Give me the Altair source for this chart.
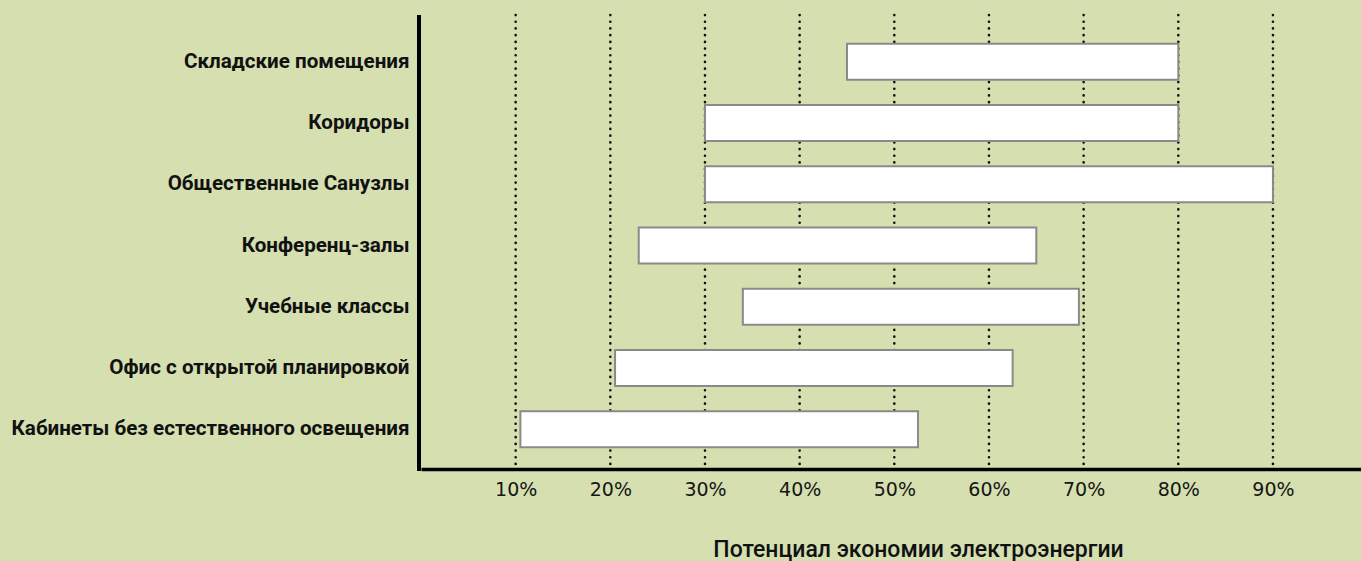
import altair as alt
import pandas as pd

categories = [
    "Складские помещения",
    "Коридоры",
    "Общественные Санузлы",
    "Конференц-залы",
    "Учебные классы",
    "Офис с открытой планировкой",
    "Кабинеты без естественного освещения",
]
starts = [45, 30, 30, 23, 34, 20.5, 10.5]
ends = [80, 80, 90, 65, 69.5, 62.5, 52.5]
tick_values = [10, 20, 30, 40, 50, 60, 70, 80, 90]

bars_df = pd.DataFrame({"cat": categories, "start": starts, "end": ends})
grid_df = pd.DataFrame({"t": tick_values})

W, H = 940, 447
xscale = alt.Scale(domain=[0, 99.3], nice=False, zero=False)

grid = alt.Chart(grid_df).mark_rule(
    color="#111111", strokeWidth=2.6, strokeDash=[0.1, 6.6], strokeCap="round"
).encode(
    x=alt.X("t:Q", scale=xscale,
            axis=alt.Axis(values=tick_values, labelExpr="datum.value + '%'",
                          grid=False, ticks=False, domain=True,
                          domainColor="#000000", domainWidth=3.5,
                          labelFont="DejaVu Sans", labelFontSize=19,
                          labelColor="#151515", labelPadding=11,
                          title="Потенциал экономии электроэнергии",
                          titleFont="Roboto", titleFontSize=23,
                          titleFontWeight=500, titleColor="#111111",
                          titleX=497, titleY=80, titleAlign="center",
                          titleBaseline="middle")),
    y=alt.value(-7),
    y2=alt.value(H),
)

bars = alt.Chart(bars_df).mark_bar(
    fill="#ffffff", stroke="#8a8a8a", strokeWidth=2, cornerRadius=0
).encode(
    x=alt.X("start:Q", scale=xscale),
    x2="end:Q",
    y=alt.Y("cat:N", sort=categories,
            scale=alt.Scale(paddingInner=0.412, paddingOuter=0.356),
            axis=alt.Axis(title=None, ticks=False, domain=False, grid=False,
                          labelFont="Roboto",
                          labelFontWeight="bold", labelFontSize=20.6,
                          labelColor="#111111", labelPadding=12,
                          labelLimit=600)),
)

yline = alt.Chart(grid_df).mark_rule(color="#000000", strokeWidth=3.5).encode(
    x=alt.value(-2), y=alt.value(-7), y2=alt.value(H + 2)
)

chart = alt.layer(grid, bars, yline).properties(
    width=W,
    height=H,
    background="#d5dfb0",
    padding={"left": 421, "top": 22, "right": 0, "bottom": 92},
    autosize=alt.AutoSizeParams(type="none"),
).configure_view(stroke=None)

chart.save("out.html", embed_options={"renderer": "svg", "actions": False})
